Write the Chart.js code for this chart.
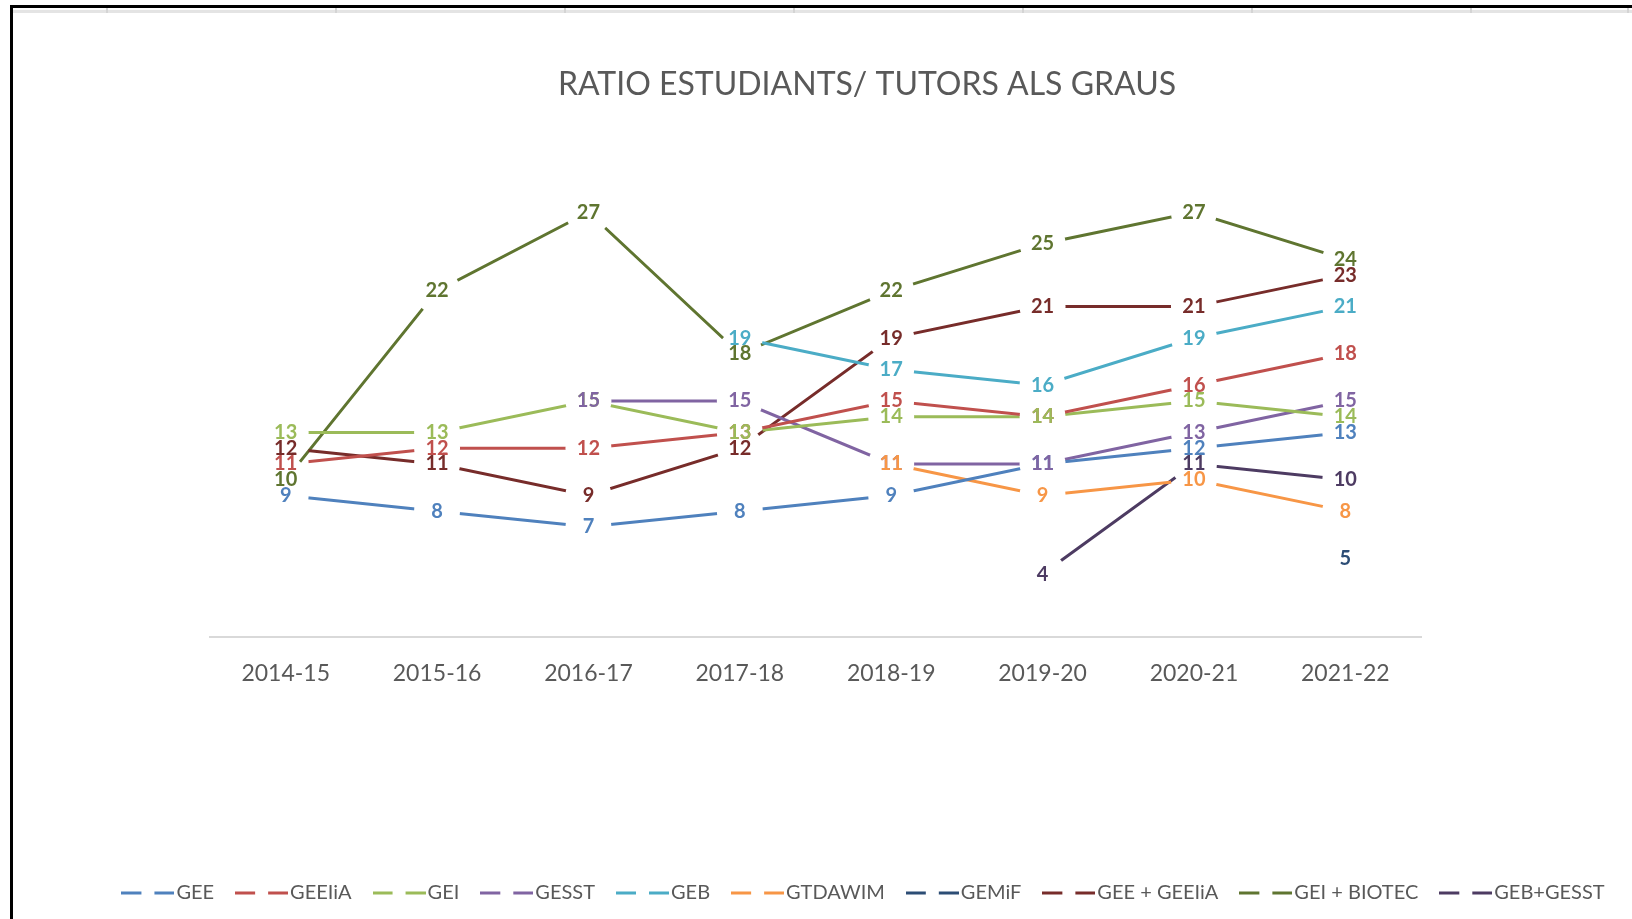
<!DOCTYPE html>
<html><head><meta charset="utf-8">
<script src="https://cdn.jsdelivr.net/npm/chart.js@4.4.1/dist/chart.umd.min.js"></script>
<style>
html,body{margin:0;padding:0;overflow:hidden;background:#fff;width:1632px;height:919px}
#wrap{position:absolute;left:0;top:0;width:1734px;height:919px}
</style></head>
<body><div id="wrap"><canvas id="c" width="1734" height="919"></canvas></div>
<script>
const categories = ['2014-15','2015-16','2016-17','2017-18','2018-19','2019-20','2020-21','2021-22'];
const seriesNames = ['GEE','GEEIiA','GEI','GESST','GEB','GTDAWIM','GEMiF','GEE + GEEIiA','GEI + BIOTEC','GEB+GESST'];
const GEE        = [9, 8, 7, 8, 9, 11, 12, 13];
const GEEIiA     = [11, 12, 12, 13, 15, 14, 16, 18];
const GEI        = [13, 13, 15, 13, 14, 14, 15, 14];
const GESST      = [null, null, 15, 15, 11, 11, 13, 15];
const GEB        = [null, null, null, 19, 17, 16, 19, 21];
const GTDAWIM    = [null, null, null, null, 11, 9, 10, 8];
const GEMiF      = [null, null, null, null, null, null, null, 5];
const GEE_GEEIiA = [12, 11, 9, 12, 19, 21, 21, 23];
const GEI_BIOTEC = [10, 22, 27, 18, 22, 25, 27, 24];
const GEB_GESST  = [null, null, null, null, null, 4, 11, 10];
const seriesValues = [GEE, GEEIiA, GEI, GESST, GEB, GTDAWIM, GEMiF, GEE_GEEIiA, GEI_BIOTEC, GEB_GESST];
const colors = ['#4F81BD','#C0504D','#9BBB59','#8064A2','#4BACC6','#F79646','#2C4D75','#772C2A','#5F7530','#4D3B62'];
const titleText = 'RATIO ESTUDIANTS/ TUTORS ALS GRAUS';

function dashIcon(color){
  const cv = document.createElement('canvas');
  cv.width = 53; cv.height = 4;
  const g = cv.getContext('2d');
  g.fillStyle = color;
  g.fillRect(0, 0.5, 20, 3);
  g.fillRect(33, 0.5, 20, 3);
  return cv;
}
const icons = colors.map(dashIcon);

const framePlugin = {
  id: 'frame',
  beforeDraw(chart){
    const c = chart.ctx;
    c.save();
    c.fillStyle = '#fff';
    c.fillRect(0, 0, chart.width, chart.height);
    c.fillStyle = '#e4e4e4';
    c.fillRect(12, 10, chart.width, 3);
    c.fillStyle = '#d4d4d4';
    [106, 335, 564, 793, 1022, 1251, 1470, 1627].forEach(x => c.fillRect(x, 8, 2, 5));
    c.fillStyle = '#000';
    c.fillRect(10, 5, chart.width, 3);
    c.fillRect(10, 5, 3, chart.height);
    c.restore();
  }
};

const GAP = 23;
const gapPlugin = {
  id: 'gapLines',
  beforeDatasetDraw(chart, args){
    const ctx = chart.ctx;
    ctx.save();
    ctx.beginPath();
    ctx.rect(0, 0, chart.width, chart.height);
    args.meta.data.forEach(pt => {
      if (pt.skip) return;
      ctx.moveTo(pt.x + GAP, pt.y);
      ctx.arc(pt.x, pt.y, GAP, 0, Math.PI * 2);
    });
    ctx.clip('evenodd');
  },
  afterDatasetDraw(chart){
    chart.ctx.restore();
  }
};

const labelPlugin = {
  id: 'valueLabels',
  afterDatasetsDraw(chart){
    const ctx = chart.ctx;
    ctx.save();
    ctx.font = 'bold 20px Lato';
    ctx.textAlign = 'center';
    ctx.textBaseline = 'middle';
    chart.data.datasets.forEach((ds, i) => {
      const meta = chart.getDatasetMeta(i);
      ctx.fillStyle = ds.borderColor;
      meta.data.forEach((pt, j) => {
        const v = ds.data[j];
        if (v === null || v === undefined || pt.skip) return;
        ctx.fillText(String(v), pt.x, pt.y);
      });
    });
    ctx.restore();
  }
};

new Chart(document.getElementById('c').getContext('2d'), {
  type: 'line',
  data: {
    labels: categories,
    datasets: seriesNames.map((n, i) => ({
      label: n,
      data: seriesValues[i],
      borderColor: colors[i],
      backgroundColor: colors[i],
      borderWidth: 3,
      pointRadius: 0,
      pointHoverRadius: 0,
      fill: false,
      tension: 0,
      spanGaps: false
    }))
  },
  options: {
    responsive: false,
    animation: false,
    events: [],
    layout: { padding: { top: 0, left: 0, right: 0, bottom: 6 } },
    plugins: {
      title: {
        display: true, text: titleText, color: '#595959',
        font: { family: 'Lato', size: 32, weight: 'normal' },
        padding: { top: 65.8, bottom: 60.8 }
      },
      legend: {
        position: 'bottom',
        labels: {
          usePointStyle: true, pointStyleWidth: 37, padding: 29,
          color: '#595959', font: { family: 'Lato', size: 20 },
          generateLabels(chart){
            const items = Chart.defaults.plugins.legend.labels.generateLabels(chart);
            items.forEach((it, i) => { it.pointStyle = icons[i]; });
            return items;
          }
        }
      },
      tooltip: { enabled: false }
    },
    scales: {
      x: {
        offset: true,
        grid: { display: false, drawTicks: false },
        border: { display: true, color: '#d9d9d9', width: 2 },
        ticks: { color: '#595959', font: { family: 'Lato', size: 23 }, padding: 23, maxRotation: 0, autoSkip: false },
        afterFit(s){ s.height = 217; }
      },
      y: {
        position: 'left', min: 0, max: 30,
        grid: { display: false, drawTicks: false }, border: { display: false }, ticks: { display: false },
        afterFit(s){ s.width = 210; }
      },
      y2: {
        type: 'linear', position: 'right', min: 0, max: 30,
        grid: { display: false, drawTicks: false }, border: { display: false }, ticks: { display: false },
        afterFit(s){ s.width = 313; }
      }
    }
  },
  plugins: [framePlugin, gapPlugin, labelPlugin]
});
</script>
</body></html>
